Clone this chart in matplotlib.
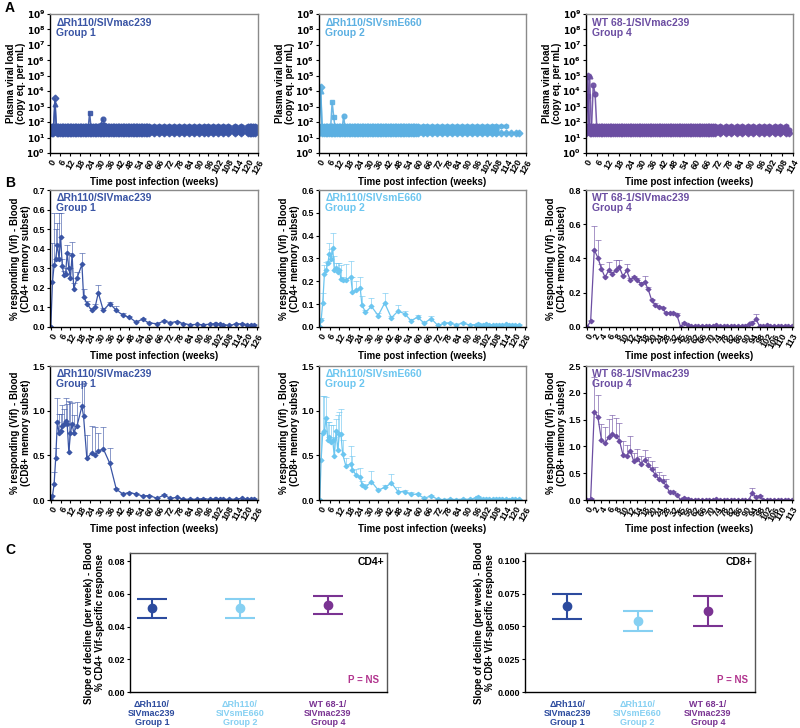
import matplotlib
matplotlib.use('Agg')
import matplotlib.pyplot as plt
import matplotlib.colors as mcolors
import numpy as np

plt.rcParams['font.family'] = ['Liberation Sans', 'DejaVu Sans']
plt.rcParams['font.weight'] = 'bold'
plt.rcParams['axes.labelweight'] = 'bold'
plt.rcParams['mathtext.default'] = 'bf'

# colours
c_g1 = '#3a55a5'
c_g2 = '#5cb0e2'
c_g2b = '#6cc6f0'
c_g4 = '#6c4ea2'
c_g1c = '#2c4b9e'
c_g2c = '#86d0f2'
c_g4c = '#7a3392'
c_p = '#b2358f'

# ---------------- panel A: plasma viral load (per animal) ----------------
A1_weeks = list(range(0, 61)) + list(range(63, 106, 3)) + [108, 112, 116, 120, 121, 122, 123, 124]
A1_levels = [20, 24, 28, 32, 36, 42, 48, 55]
A1_ends = [124, 124, 124, 124, 124, 124, 124, 124]
A1_spikes = [(0, 3, 3500), (1, 3, 1500), (2, 24, 400), (3, 31, 70), (3, 32, 170), (3, 33, 70)]

A2_weeks = list(range(0, 61)) + list(range(63, 109, 3)) + [111, 114, 117, 120, 122]
A2_levels = [20, 24, 28, 32, 36, 42, 48, 55]
A2_ends = [122, 108, 108, 108, 108, 108, 108, 114]
A2_spikes = [(0, 1, 20000), (1, 1, 10000), (2, 8, 2000), (2, 9, 200), (3, 15, 250)]

A4_weeks = list(range(0, 72)) + list(range(74, 111, 3)) + [112]
A4_levels = [20, 24, 28, 32, 36, 42, 48, 55]
A4_ends = [112, 110, 110, 112, 110, 110, 110, 110]
A4_spikes = [(0, 1, 100000), (1, 2, 90000), (2, 1, 5000), (3, 4, 25000), (3, 5, 7000)]

# ---------------- panel B: Vif responses (mean + SEM) ----------------
B1_weeks = [0, 1, 2, 3, 4, 5, 6, 7, 8, 9, 10, 11, 12, 13, 14,
            16, 19, 20, 22, 25, 27, 29, 32, 36, 40, 44, 48, 52, 56, 60,
            65, 69, 73, 77, 81, 85, 89, 93, 97,
            100, 101, 103, 105, 109, 113, 117, 120, 122, 124]
B1_cd4 = [0, 0.23, 0.315, 0.35, 0.42, 0.35, 0.46, 0.31, 0.265, 0.27, 0.38, 0.30, 0.25, 0.37, 0.195,
          0.25, 0.32, 0.155, 0.12, 0.085, 0.10, 0.175, 0.085, 0.12, 0.085, 0.06, 0.05, 0.025, 0.04, 0.02,
          0.017, 0.03, 0.022, 0.028, 0.017, 0.012, 0.013, 0.012, 0.014,
          0.015, 0.017, 0.014, 0.012, 0.008, 0.015, 0.015, 0.01, 0.01, 0.012]
B1_cd4_err = [0, 0.20, 0.27, 0.15, 0.11, 0.23, 0.12, 0.04, 0.02, 0.03, 0.04, 0.08, 0.05, 0.065, 0.03,
              0.03, 0.06, 0.04, 0.015, 0.01, 0.02, 0.04, 0.01, 0.01, 0.02, 0.01, 0.008, 0.005, 0.005, 0.004,
              0.003, 0.004, 0.003, 0.004, 0.003, 0.002, 0.002, 0.002, 0.003,
              0.004, 0.005, 0.003, 0.002, 0.002, 0.004, 0.004, 0.002, 0.002, 0.003]
B1_cd8 = [0, 0.045, 0.175, 0.475, 0.875, 0.75, 0.775, 0.825, 0.855, 0.88, 0.85, 0.535, 0.75, 0.85, 0.755,
          0.83, 1.05, 0.935, 0.465, 0.53, 0.50, 0.545, 0.575, 0.41, 0.12, 0.068, 0.082, 0.068, 0.045, 0.05,
          0.019, 0.056, 0.019, 0.03, 0.008, 0.01, 0.008, 0.015, 0.008,
          0.01, 0.012, 0.01, 0.008, 0.008, 0.01, 0.02, 0.008, 0.008, 0.015]
B1_cd8_err = [0, 0.01, 0.135, 0.105, 0.265, 0.21, 0.185, 0.235, 0.165, 0.26, 0.23, 0.575, 0.35, 0.24, 0.195,
              0.27, 0.25, 0.375, 0.265, 0.30, 0.32, 0.205, 0.245, 0.17, 0.01, 0.008, 0.01, 0.008, 0.005, 0.005,
              0.003, 0.008, 0.003, 0.004, 0.002, 0.002, 0.002, 0.003, 0.002,
              0.002, 0.002, 0.002, 0.002, 0.002, 0.002, 0.004, 0.002, 0.002, 0.003]

B2_weeks = [0, 0.8, 1.8, 2.8, 3.9, 4.9, 5.9, 6.9, 7.9, 8.9, 10, 11, 12, 13, 14,
            16, 19, 20, 22.4, 24.8, 25.8, 28, 31.7, 35.8, 39.8, 43.9, 48, 52, 56, 60,
            64, 68.3, 72.4, 76.4, 79.7, 83.7, 87.8, 91.9,
            96, 97, 98, 100, 102, 104, 106, 108, 110, 112, 114, 116, 118, 120, 122]
B2_cd4 = [0, 0.03, 0.107, 0.23, 0.25, 0.28, 0.32, 0.30, 0.345, 0.25, 0.26, 0.24, 0.25, 0.21, 0.205,
          0.205, 0.22, 0.155, 0.16, 0.17, 0.098, 0.065, 0.09, 0.05, 0.105, 0.04, 0.07, 0.058, 0.028, 0.043,
          0.017, 0.037, 0.007, 0.016, 0.017, 0.01, 0.017, 0.009,
          0.01, 0.012, 0.008, 0.01, 0.012, 0.008, 0.01, 0.009, 0.008, 0.01, 0.011, 0.007, 0.009, 0.01, 0.008]
B2_cd4_err = [0, 0.01, 0.04, 0.04, 0.035, 0.01, 0.05, 0.04, 0.065, 0.06, 0.02, 0.04, 0.03, 0.06, 0.015,
              0.07, 0.07, 0.065, 0.04, 0.05, 0.037, 0.01, 0.035, 0.01, 0.045, 0.01, 0.025, 0.012, 0.005, 0.008,
              0.004, 0.011, 0.003, 0.004, 0.004, 0.003, 0.004, 0.003,
              0.003, 0.003, 0.003, 0.003, 0.003, 0.003, 0.003, 0.003, 0.003, 0.003, 0.003, 0.003, 0.003, 0.003, 0.003]
B2_cd8 = [0, 0.45, 0.755, 0.77, 0.92, 0.675, 0.70, 0.645, 0.675, 0.487, 0.775, 0.555, 0.74, 0.74, 0.515,
          0.38, 0.405, 0.34, 0.275, 0.26, 0.17, 0.143, 0.205, 0.112, 0.14, 0.19, 0.094, 0.094, 0.064, 0.064,
          0.02, 0.045, 0.008, 0.005, 0.01, 0.005, 0.01, 0.008,
          0.02, 0.03, 0.015, 0.01, 0.012, 0.008, 0.01, 0.006, 0.008, 0.006, 0.008, 0.005, 0.008, 0.006, 0.008]
B2_cd8_err = [0, 0.3, 0.405, 0.39, 0.23, 0.195, 0.17, 0.195, 0.165, 0.213, 0.135, 0.395, 0.25, 0.28, 0.155,
              0.09, 0.195, 0.15, 0.075, 0.10, 0.04, 0.037, 0.115, 0.01, 0.03, 0.10, 0.046, 0.016, 0.026, 0.01,
              0.005, 0.01, 0.003, 0.002, 0.003, 0.002, 0.003, 0.003,
              0.01, 0.01, 0.005, 0.003, 0.003, 0.003, 0.003, 0.003, 0.003, 0.003, 0.003, 0.003, 0.003, 0.003, 0.003]

# group 4 is plotted on a categorical (per-timepoint) axis
B4_weeks = [0, 1, 2, 3, 4, 5, 6, 7, 8, 9, 10, 11, 12, 13, 14,
            16, 18, 19, 20, 22, 24, 26, 28, 29, 32, 36, 45, 52, 56, 60,
            62, 64, 66, 68, 70, 72, 74, 76, 78, 80, 82, 84, 86, 88, 90,
            92, 94, 96, 98, 100, 102, 104, 106, 108, 110, 111, 112, 113]
B4_cd4 = [0, 0.035, 0.45, 0.405, 0.34, 0.29, 0.33, 0.31, 0.335, 0.35, 0.295, 0.33, 0.275, 0.29, 0.275,
          0.25, 0.265, 0.22, 0.155, 0.13, 0.115, 0.11, 0.08, 0.08, 0.08, 0.07, 0.002, 0.025, 0.01, 0.005,
          0.005, 0.005, 0.005, 0.008, 0.005, 0.005, 0.01, 0.005, 0.005, 0.004, 0.005, 0.005, 0.005, 0.005, 0.006,
          0.015, 0.025, 0.045, 0.005, 0.005, 0.01, 0.005, 0.005, 0.004, 0.005, 0.005, 0.005, 0.005]
B4_cd4_err = [0, 0.005, 0.14, 0.105, 0.03, 0.01, 0.05, 0.01, 0.055, 0.04, 0.01, 0.04, 0.01, 0.01, 0.01,
              0.01, 0.03, 0.015, 0.01, 0.01, 0.005, 0.005, 0.005, 0.005, 0.005, 0.01, 0.0, 0.005, 0.002, 0.001,
              0.001, 0.001, 0.001, 0.002, 0.001, 0.001, 0.002, 0.001, 0.001, 0.001, 0.001, 0.001, 0.001, 0.001, 0.001,
              0.005, 0.01, 0.03, 0.001, 0.001, 0.003, 0.001, 0.001, 0.001, 0.001, 0.001, 0.001, 0.001]
B4_cd8 = [0, 0.02, 1.65, 1.55, 1.12, 1.06, 1.17, 1.23, 1.19, 1.11, 0.84, 0.83, 0.92, 0.72, 0.77,
          0.68, 0.75, 0.65, 0.57, 0.47, 0.39, 0.35, 0.27, 0.14, 0.15, 0.10, 0.0, 0.04, 0.02, 0.005,
          0.005, 0.005, 0.005, 0.008, 0.005, 0.005, 0.01, 0.005, 0.005, 0.005, 0.005, 0.005, 0.005, 0.005, 0.005,
          0.005, 0.13, 0.05, 0.07, 0.005, 0.005, 0.005, 0.005, 0.005, 0.005, 0.005, 0.005, 0.005]
B4_cd8_err = [0, 0.01, 0.65, 0.4, 0.3, 0.3, 0.35, 0.35, 0.34, 0.32, 0.27, 0.2, 0.27, 0.16, 0.18,
              0.14, 0.18, 0.15, 0.15, 0.14, 0.13, 0.12, 0.12, 0.02, 0.02, 0.02, 0.0, 0.01, 0.005, 0.002,
              0.002, 0.002, 0.002, 0.002, 0.002, 0.002, 0.002, 0.002, 0.002, 0.002, 0.002, 0.002, 0.002, 0.002, 0.002,
              0.002, 0.1, 0.02, 0.02, 0.002, 0.002, 0.002, 0.002, 0.002, 0.002, 0.002, 0.002, 0.002]

# ---------------- panel C: slope of decline ----------------
C_groups = ['\u0394Rh110/\nSIVmac239\nGroup 1', '\u0394Rh110/\nSIVsmE660\nGroup 2', 'WT 68-1/\nSIVmac239\nGroup 4']
C_cd4_mean = [0.0512, 0.0512, 0.0532]
C_cd4_lo = [0.0455, 0.0450, 0.0475]
C_cd4_hi = [0.0570, 0.0570, 0.0590]
C_cd8_mean = [0.0655, 0.0540, 0.0620]
C_cd8_lo = [0.0560, 0.0465, 0.0500]
C_cd8_hi = [0.0745, 0.0615, 0.0730]

titles = ['\u0394Rh110/SIVmac239\nGroup 1', '\u0394Rh110/SIVsmE660\nGroup 2', 'WT 68-1/SIVmac239\nGroup 4']

fig = plt.figure(figsize=(8, 7.28), dpi=100)


def ax_at(x0, y0, x1, y1):
    return fig.add_axes([x0 / 800, 1 - y1 / 728, (x1 - x0) / 800, (y1 - y0) / 728])


def style(ax):
    for s in ['left', 'bottom']:
        ax.spines[s].set_color('black')
        ax.spines[s].set_linewidth(1)
    for s in ['top', 'right']:
        ax.spines[s].set_color('#8a8a8a')
        ax.spines[s].set_linewidth(1)
    ax.tick_params(direction='out', length=2.5, width=0.8, labelsize=6.5, pad=1)


def viral(ax, weeks, levels, ends, spikes, color, title, xmax):
    marks = ['D', '^', 's', 'o', 'v', 'P', 'X', 'h']
    for i, lev in enumerate(levels):
        w = [x for x in weeks if x <= ends[i]]
        v = [lev for x in w]
        for a, wk, val in spikes:
            if a == i:
                v[w.index(wk)] = val
        ax.plot(w, v, color=color, marker=marks[i], ms=3.4, lw=1.1, alpha=0.9)
    ax.set_yscale('log')
    ax.set_ylim(1, 1e9)
    ax.set_yticks([10.0 ** k for k in range(10)])
    ax.set_yticklabels([r'$10^{%d}$' % k for k in range(10)])
    ax.minorticks_off()
    ax.set_xlim(0, xmax)
    ax.set_xticks(range(0, xmax + 1, 6))
    ax.set_xticklabels([str(t) for t in range(0, xmax + 1, 6)], rotation=60, ha='right',
                       rotation_mode='anchor')
    ax.set_ylabel('Plasma viral load\n(copy eq. per mL)', fontsize=7, labelpad=0, linespacing=1.1)
    ax.set_xlabel('Time post infection (weeks)', fontsize=7, labelpad=1)
    ax.text(0.03, 0.97, title, transform=ax.transAxes, va='top', ha='left', color=color,
            fontsize=7.5, fontweight='bold', linespacing=1.0)
    style(ax)


def response(ax, x, y, e, color, title, ymax, ystep, ylab, labels=None):
    light = mcolors.to_rgba(color, 0.6)
    ax.errorbar(x, y, yerr=[np.zeros(len(e)), e], color=color, ecolor=light, elinewidth=0.7,
                capsize=2.2, capthick=0.7, lw=0.9, marker='D', ms=2.2)
    ax.set_ylim(0, ymax)
    ax.set_yticks(np.arange(0, ymax + 1e-9, ystep))
    ax.yaxis.set_major_formatter(matplotlib.ticker.FormatStrFormatter('%.1f'))
    if labels is None:
        ax.set_xlim(-0.5, 126.5)
        ax.set_xticks(range(0, 127, 6))
        ax.set_xticklabels([str(t) for t in range(0, 127, 6)], rotation=60, ha='right',
                           rotation_mode='anchor')
    else:
        ax.set_xlim(-0.3, len(labels) - 0.7)
        idx = list(range(0, len(labels) - 2, 2)) + [len(labels) - 1]
        ax.set_xticks(idx)
        ax.set_xticklabels([str(labels[i]) for i in idx], rotation=60, ha='right',
                           rotation_mode='anchor')
    ax.set_ylabel(ylab, fontsize=7, labelpad=1, linespacing=1.1)
    ax.set_xlabel('Time post infection (weeks)', fontsize=7, labelpad=1)
    ax.text(0.03, 0.98, title, transform=ax.transAxes, va='top', ha='left', color=color,
            fontsize=7.5, fontweight='bold', linespacing=1.0)
    style(ax)


# row A
axA = [ax_at(50, 14, 258, 153), ax_at(319, 14, 526, 153), ax_at(586, 14, 793, 153)]
viral(axA[0], A1_weeks, A1_levels, A1_ends, A1_spikes, c_g1, titles[0], 126)
viral(axA[1], A2_weeks, A2_levels, A2_ends, A2_spikes, c_g2, titles[1], 126)
viral(axA[2], A4_weeks, A4_levels, A4_ends, A4_spikes, c_g4, titles[2], 114)

# row B (CD4)
lab4 = '% responding (Vif) - Blood\n(CD4+ memory subset)'
lab8 = '% responding (Vif) - Blood\n(CD8+ memory subset)'
b1 = [ax_at(50, 190, 258, 327), ax_at(319, 190, 526, 327), ax_at(586, 190, 793, 327)]
response(b1[0], B1_weeks, B1_cd4, B1_cd4_err, c_g1, titles[0], 0.7, 0.1, lab4)
response(b1[1], B2_weeks, B2_cd4, B2_cd4_err, c_g2b, titles[1], 0.6, 0.1, lab4)
response(b1[2], range(len(B4_weeks)), B4_cd4, B4_cd4_err, c_g4, titles[2], 0.8, 0.2, lab4, B4_weeks)

# row B (CD8)
b2 = [ax_at(50, 366, 258, 500), ax_at(319, 366, 526, 500), ax_at(586, 366, 793, 500)]
response(b2[0], B1_weeks, B1_cd8, B1_cd8_err, c_g1, titles[0], 1.5, 0.5, lab8)
response(b2[1], B2_weeks, B2_cd8, B2_cd8_err, c_g2b, titles[1], 1.5, 0.5, lab8)
response(b2[2], range(len(B4_weeks)), B4_cd8, B4_cd8_err, c_g4, titles[2], 2.5, 0.5, lab8, B4_weeks)

# row C
ccols = [c_g1c, c_g2c, c_g4c]


def slope(ax, mean, lo, hi, ymax, ticks, fmt, tag, ylab, xlim):
    for i in range(3):
        ax.errorbar([i], [mean[i]], yerr=[[mean[i] - lo[i]], [hi[i] - mean[i]]], color=ccols[i],
                    marker='o', ms=6, capsize=10.5, capthick=1.5, elinewidth=1.5)
    ax.set_xlim(*xlim)
    ax.set_ylim(0, ymax)
    ax.set_yticks(ticks)
    ax.set_yticklabels([fmt % t for t in ticks])
    ax.set_xticks(range(3))
    ax.set_xticklabels(C_groups, fontsize=7, linespacing=1.0)
    for t, c in zip(ax.get_xticklabels(), ccols):
        t.set_color(c)
    ax.set_ylabel(ylab, fontsize=7, labelpad=2, linespacing=1.1)
    ax.text(0.99, 0.97, tag, transform=ax.transAxes, ha='right', va='top', fontsize=7.5,
            fontweight='bold')
    ax.text(0.97, 0.05, 'P = NS', transform=ax.transAxes, ha='right', va='bottom', fontsize=7,
            fontweight='bold', color=c_p)
    style(ax)
    ax.tick_params(axis='x', length=0, pad=6)
    for s in ['top', 'right']:
        ax.spines[s].set_color('#555555')


c1 = ax_at(130, 553, 387, 692)
slope(c1, C_cd4_mean, C_cd4_lo, C_cd4_hi, 0.085, [0, 0.02, 0.04, 0.06, 0.08], '%.2f', 'CD4+',
      'Slope of decline (per week) - Blood\n% CD4+ Vif-specific response', (-0.25, 2.67))
c2 = ax_at(525, 553, 755, 692)
slope(c2, C_cd8_mean, C_cd8_lo, C_cd8_hi, 0.106, [0, 0.025, 0.05, 0.075, 0.1], '%.3f', 'CD8+',
      'Slope of decline (per week) - Blood\n% CD8+ Vif-specific response', (-0.6, 2.67))

# panel letters
for lab, y in [('A', 8), ('B', 183), ('C', 550)]:
    fig.text(5 / 800, 1 - y / 728, lab, fontsize=10, fontweight='bold', va='center', ha='left')

fig.savefig('out.png', dpi=100)
